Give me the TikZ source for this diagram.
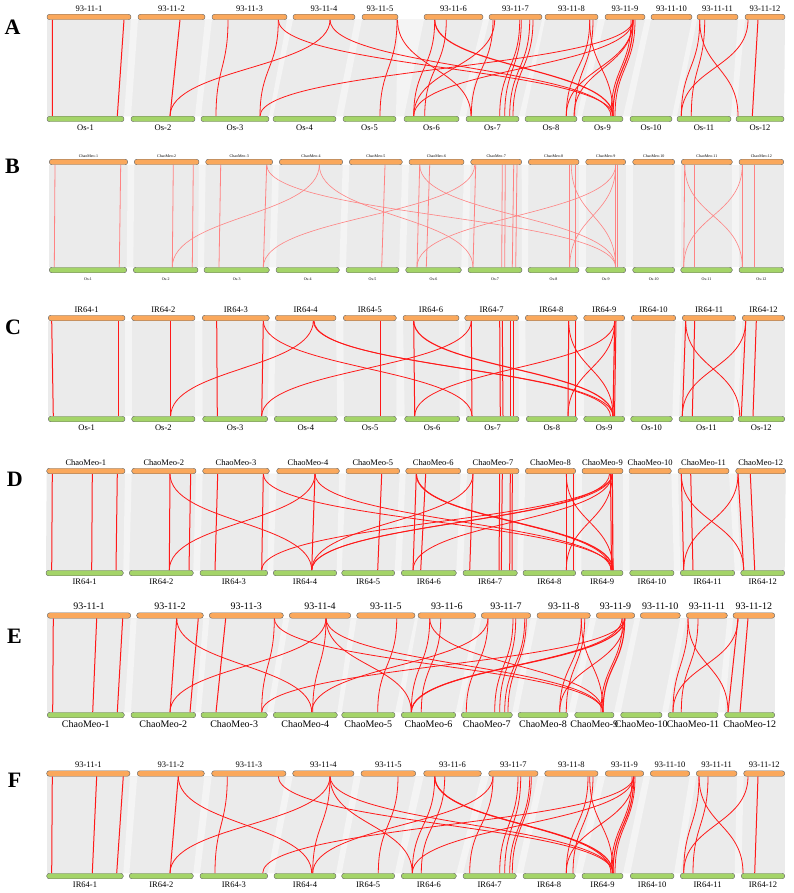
\documentclass[tikz,border=0pt]{standalone}
\usepackage{fontspec}
\setmainfont{Liberation Serif}
\usetikzlibrary{positioning}
\definecolor{orb}{RGB}{250,168,92}
\definecolor{grb}{RGB}{164,212,104}
\definecolor{bgc}{RGB}{235,235,235}
\definecolor{gapc}{RGB}{244,244,244}
\definecolor{bdr}{RGB}{105,105,105}
\definecolor{lkc}{RGB}{255,25,25}
\definecolor{lkl}{RGB}{255,130,130}
\tikzset{
 chrbar/.style={draw=bdr, line width=0.45pt, rounded corners=2.6pt, minimum height=5.5pt, inner sep=0pt, outer sep=0pt},
 topbar/.style={chrbar, fill=orb},
 botbar/.style={chrbar, fill=grb},
 lbl/.style={inner sep=0pt, font=\lf, text=black},
 lnk/.style={color=\lkcol, line width=0.8pt},
 thk/.style={line width=1.15pt},
 vlk/.style={color=\lkcol, line width=1pt},
 plet/.style={inner sep=0pt, font=\fontsize{22}{24}\selectfont\bfseries},
}
\def\lkcol{lkc}
\def\lf{\fontsize{8.5}{9}\selectfont}
\def\tsep{2.5pt}\def\bsep{3pt}
\newcommand\setpanel[5]{\def\pn{#1}\def\yTc{#2}\def\yBc{#3}\def\tnm{#4}\def\bnm{#5}%
 \pgfmathsetmacro\yT{#2+2.75}\pgfmathsetmacro\yB{#3-2.75}\pgfmathsetmacro\yM{(#2+#3)/2}}
\newcommand\Coords{%
 \foreach \a/\b [count=\i] in \tops {\coordinate (\pn tL\i) at (\a,\yT); \coordinate (\pn tR\i) at (\b,\yT);}
 \foreach \a/\b [count=\i] in \bots {\coordinate (\pn bL\i) at (\a,\yB); \coordinate (\pn bR\i) at (\b,\yB);}}
\newcommand\BG{%
 \fill[bgc] (\pn tL1) -- (\pn tR12) -- (\pn bR12) -- (\pn bL1) -- cycle;
 \foreach \i [evaluate=\i as \j using int(\i+1)] in {1,...,11}{\fill[gapc] (\pn tR\i) -- (\pn tL\j) -- (\pn bL\j) -- (\pn bR\i) -- cycle;}}
\newcommand\Bars{%
 \foreach \a/\b [count=\i] in \tops {\node[topbar,minimum width={(\b-\a)*1pt}] (\pn t\i) at ({(\a+\b)/2},\yTc) {};
   \node[lbl,above=\tsep of \pn t\i] (\pn tn\i) {\tnm-\i};}
 \foreach \a/\b [count=\i] in \bots {\node[botbar,minimum width={(\b-\a)*1pt}] (\pn b\i) at ({(\a+\b)/2},\yBc) {};
   \node[lbl,below=\bsep of \pn b\i] (\pn bn\i) {\bnm-\i};}}
\newcommand\Lk[3][]{%
 \pgfmathtruncatemacro\nearv{abs(#3-#2)<12 ? 1 : 0}%
 \ifnum\nearv=1
  \draw[vlk,#1] (#2,\yT) -- (#3,\yB);
 \else
  \draw[lnk,#1] (#2,\yT) .. controls (#2,\yM) and (#3,\yM) .. (#3,\yB);
 \fi}
\begin{document}
\begin{tikzpicture}[x=1pt,y=-1pt]
\useasboundingbox (0,0) rectangle (793,893);
\fill[white] (0,0) rectangle (793,893);
% ---------------- A
\setpanel{A}{17}{119}{93-11}{Os}
\node[plet] (pA) at (12.5,27) {A};
\def\tops{47/131,138/205,212/287,293/355,362/398,424/483,489/542,545/598,605/645,651/692,697/738,745/785}
\def\bots{47/124,131/195,201/269,273/336,343/396,404/459,466/519,525/577,582/623,630/672,677/731,736/784}
\Coords\BG
\Lk{52.5}{52.3}\Lk{124}{117.3}\Lk{180}{170}\Lk{228}{216}\Lk{278.3}{260}
\Lk{278.3}{613}\Lk{330}{170}\Lk{330}{611}\Lk{397}{380}\Lk{397.5}{471}
\Lk{434.7}{413.7}\Lk{446.3}{424.7}\Lk[thk]{434.7}{613}
\Lk{494.7}{413.7}\Lk{493}{471.3}
\Lk{519.7}{499.7}\Lk{521.3}{504.7}\Lk{529.7}{509.7}\Lk{533}{513}
\Lk{589.7}{566.3}\Lk{593}{574.7}\Lk{589.7}{613}
\Lk{633}{566.3}\Lk[thk]{633}{613}\Lk{631}{611}\Lk{635}{615}\Lk{633}{574}
\Lk{633}{260}\Lk{633}{413.7}
\Lk{699.7}{681.3}\Lk{704.7}{691.3}\Lk{699.7}{738}\Lk{748}{681.3}\Lk{758}{752.3}
\Bars
% ---------------- B
\def\lf{\fontsize{4}{4.5}\selectfont}\def\tsep{2pt}\def\bsep{4.5pt}
\setpanel{B}{162}{270}{ChaoMeo}{Os}
\node[plet] (pB) at (12.5,166) {B};
\def\tops{49.3/127.7,134.3/199,205.7/272.7,279.3/342.7,349.3/402.3,409/464,470.7/521.7,528.3/579,585.7/625.7,632.7/674.7,681.3/732.3,739/783.7}
\def\bots{49.3/126.7,133.3/198,204/269.3,276/339.3,346/399,405.7/461.3,468/522,528/579,585.7/625.7,632.7/674.7,680.7/732.3,739/783.7}
\Coords\BG
\def\lkcol{lkl}
\begin{scope}[lnk/.append style={line width=0.6pt},vlk/.append style={line width=0.8pt}]
\Lk{55}{54.3}\Lk{120.7}{119.3}\Lk{173.3}{172.3}\Lk{193.3}{192.3}\Lk{220.7}{219}\Lk{266.7}{263.3}
\Lk{266.7}{615.7}\Lk{319.3}{172.3}\Lk{319.3}{473}\Lk{474.7}{263.3}\Lk{385}{381.7}
\Lk{419.7}{417}\Lk{419.7}{615.7}\Lk{429.7}{426.3}\Lk{615.7}{417}
\Lk{475.7}{473}\Lk{502.3}{501.7}\Lk{505.3}{504.7}\Lk{513.7}{512.3}\Lk{517}{515.7}
\Lk{569.7}{569.7}\Lk{575.7}{575.7}\Lk{571.3}{615.7}
\Lk{615.7}{569.7}\Lk{615.7}{615.7}\Lk{617}{617}
\Lk{684.7}{683.7}\Lk{694}{694}\Lk{684.7}{742.3}\Lk{742.3}{683.7}\Lk{742.3}{742.3}\Lk{754.7}{754.7}
\end{scope}
\def\lkcol{lkc}
\Bars
% ---------------- C
\def\lf{\fontsize{8.5}{9}\selectfont}\def\tsep{2.5pt}\def\bsep{3pt}
\setpanel{C}{318}{419}{IR64}{Os}
\node[plet] (pC) at (13,327.5) {C};
\def\tops{48.3/125,131.7/195,202.3/269.3,275.3/336,343.3/396.3,403/459,464.7/518.7,525.3/577.3,583.7/624.7,631.3/675.7,682.3/735.7,742.3/784.7}
\def\bots{48.3/125,131.7/195,202.7/267.7,274.3/337.3,344/396.3,404.7/459.7,466.3/519,526.3/577.3,583.7/624.7,630.7/672.3,679/733.7,738/784.7}
\Coords\BG
\Lk{51.7}{53.3}\Lk{118.3}{118.3}\Lk{170.7}{170.7}\Lk{216.7}{217.3}\Lk{263.3}{261.7}
\Lk{263.3}{472}\Lk{313.3}{170.7}\Lk{313.3}{613}\Lk{314}{610.5}\Lk{471.3}{261.7}\Lk{380}{380}
\Lk{413.7}{414.7}\Lk[thk]{413.7}{613}
\Lk{471.3}{472}\Lk{499.7}{500.3}\Lk{502.3}{503}\Lk{510.3}{510.3}\Lk{513.7}{513.7}
\Lk{614.7}{414.7}\Lk{568.7}{568}\Lk{575.7}{575.7}\Lk{568.7}{613}
\Lk{614.7}{568}\Lk[thk]{614.7}{613}\Lk{616}{614.5}
\Lk{685.7}{682.3}\Lk{694.7}{692.3}\Lk{685.7}{739.7}\Lk{745.7}{682.3}\Lk{745.7}{741.3}\Lk{756.3}{753}
\Bars
% ---------------- D
\setpanel{D}{471}{573}{ChaoMeo}{IR64}
\node[plet] (pD) at (14.7,479) {D};
\def\tops{46.7/125,131.7/196,202.7/269.3,276.7/339.3,346/399.7,405.7/460.7,467/519,525.3/575.7,582/623,629/671.3,678/729,735.7/785.7}
\def\bots{46/123.3,129.3/193.3,200/267.7,273.3/336.7,341.7/394.7,401.3/456.3,463/517.3,523/575.7,581.3/623,629.7/674,680.3/734.7,740.7/784.7}
\Coords\BG
\Lk{52.3}{51.7}\Lk{92.3}{91.7}\Lk{117.3}{116}\Lk{170}{169.3}\Lk{190.7}{189}\Lk{170}{311.7}
\Lk{217.7}{215}\Lk{263.3}{261.7}\Lk{263.3}{613}\Lk{315}{169.3}\Lk{315}{311.7}\Lk{315}{611}
\Lk{612.3}{261.7}\Lk{381.7}{377.7}
\Lk{416.3}{413}\Lk[thk]{416.3}{613}\Lk{416.3}{611}\Lk{425.7}{420.7}
\Lk{473}{469.7}\Lk{473}{311.7}\Lk{499.7}{499}\Lk{502.3}{501.3}\Lk{510.3}{509.7}\Lk{512.3}{512}
\Lk{566.3}{566.3}\Lk{573}{573}\Lk{566.3}{613}
\Lk{612.3}{566.3}\Lk[thk]{612.3}{613}\Lk{610.5}{611.5}\Lk{612.3}{413}\Lk{612.3}{311.7}\Lk{609.5}{311.7}
\Lk{681.3}{683.7}\Lk{690.7}{693}\Lk{681.3}{743.7}\Lk{738}{683.7}\Lk{738}{743.7}\Lk{750.3}{754.7}
\Bars
% ---------------- E
\def\lf{\fontsize{10}{11}\selectfont}\def\tsep{3pt}\def\bsep{3pt}
\setpanel{E}{615.5}{715}{93-11}{ChaoMeo}
\node[plet] (pE) at (14.5,636) {E};
\def\tops{47.3/130.7,136.7/203.3,209.3/283.3,289.3/350.7,356.7/415,418/475.7,481.3/530.7,537/590.3,596.3/634.7,640.3/680.3,686.3/727.3,733/774.7}
\def\bots{47.3/124.3,131/195.7,201/267.3,273.3/337.3,341.7/395,401.3/455.7,461.3/512.3,518/568,574.7/614,620.7/662,668/718,724.7/774.7}
\Coords\BG
\Lk{53.3}{52.7}\Lk{96.7}{92.7}\Lk{122.7}{117.3}\Lk{176.7}{170}\Lk{198.3}{190}\Lk{176.7}{311.7}
\Lk{225.7}{216}\Lk{274.3}{261.7}\Lk{274.3}{603}\Lk{326}{170}\Lk{326}{312.7}\Lk{326}{603}\Lk{326}{411.3}
\Lk{624.7}{261.7}\Lk{396.7}{377.7}
\Lk{429.7}{411.3}\Lk{440.7}{421.3}\Lk{429.7}{603}
\Lk{488}{466.3}\Lk{488}{311.7}\Lk{513}{494.7}\Lk{515.7}{499.7}\Lk{524.7}{504.7}\Lk{526.3}{508}
\Lk{581.3}{559.7}\Lk{584.7}{566.3}\Lk{581.3}{603}
\Lk{624.7}{559.7}\Lk[thk]{624.7}{603}\Lk{622.7}{601}\Lk[thk]{624.7}{411.3}\Lk{622}{411.3}
\Lk{688}{673}\Lk{698}{681.3}\Lk{688}{728}\Lk{738}{673}\Lk{738}{728}\Lk{748}{740}
\Bars
% ---------------- F
\def\lf{\fontsize{8.5}{9}\selectfont}\def\tsep{2.5pt}\def\bsep{3pt}
\setpanel{F}{773.5}{876}{93-11}{IR64}
\node[plet] (pF) at (14.5,780) {F};
\def\tops{46.7/130,137.3/204.3,211.7/286,292.7/354,361/415.7,423.7/481.3,488.7/538,544.7/598,605.3/643.7,650.3/689.7,696.3/737,743.7/784.7}
\def\bots{46.7/123.3,129.3/193.3,200/267.7,274/336,341.7/394.7,401.3/456.3,463/516.3,523/575.3,582/623,630.3/674,680.3/734.7,741.3/784.7}
\Coords\BG
\Lk{52.3}{51.7}\Lk{96.7}{92.3}\Lk{123.3}{116.7}\Lk{178.3}{170}\Lk{178.3}{311.7}
\Lk{227.3}{215}\Lk{278.3}{613}\Lk{330}{170}\Lk{330}{312.7}\Lk{330}{613}\Lk{330}{412.3}
\Lk{633.7}{262.7}\Lk{398}{378.3}
\Lk{434.7}{412.3}\Lk{444.7}{421.3}\Lk[thk]{434.7}{613}\Lk{434.7}{611}
\Lk{493}{469.7}\Lk{493}{312.7}\Lk{518}{499.7}\Lk{520.7}{504.7}\Lk{529.7}{509.7}\Lk{531.3}{512.3}
\Lk{588}{566.3}\Lk{593}{573}\Lk{589.7}{613}
\Lk{633.7}{566.3}\Lk[thk]{633.7}{613}\Lk{632}{611}\Lk{635}{615}\Lk{633.7}{412.3}
\Lk{699}{683.7}\Lk{708}{693}\Lk{699}{743}\Lk{748}{683.7}\Lk{758}{754.7}
\Bars
\end{tikzpicture}
\end{document}
